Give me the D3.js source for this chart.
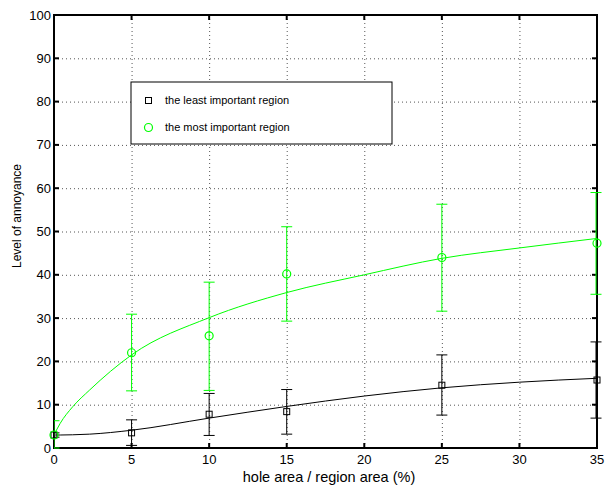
<!DOCTYPE html>
<html>
<head>
<meta charset="utf-8">
<script src="https://cdn.jsdelivr.net/npm/d3@7"></script>
<style>
  body { margin: 0; background: #fff; }
  text { font-family: "Liberation Sans", Arial, Helvetica, sans-serif; fill: #000; }
</style>
</head>
<body>
<div id="chart"></div>
<script>
// measured points (hole area %)
const xVals = [0, 5, 10, 15, 25, 35];
const leastMean  = [3, 3.5, 7.8, 8.4, 14.5, 15.7];
const leastLow   = [2.5, 0.6, 2.9, 3.2, 7.6, 6.9];
const leastHigh  = [3.5, 6.5, 12.6, 13.5, 21.5, 24.5];
const mostMean   = [3, 22.0, 25.9, 40.2, 44.0, 47.3];
const mostLow    = [0, 13.2, 13.3, 29.3, 31.6, 35.5];
const mostHigh   = [6.3, 30.9, 38.3, 51.1, 56.3, 59.0];

// fitted curves
const fitX     = [0, 0.4, 1.2, 2.3, 5, 10, 15, 20, 25, 30, 35];
const leastFit = [3, 3.0, 3.05, 3.2, 4.1, 6.9, 9.6, 12.0, 13.9, 15.2, 16.1];
const mostFit  = [3, 5.7, 9.5, 13.4, 21.5, 30.1, 35.9, 40.0, 43.8, 46.2, 48.4];

const xTicks = [0, 5, 10, 15, 20, 25, 30, 35];
const yTicks = [0, 10, 20, 30, 40, 50, 60, 70, 80, 90, 100];
const legendLabels = ["the least important region", "the most important region"];

const W = 605, H = 491;
const plotL = 54, plotR = 597, plotT = 15, plotB = 448;
const green = "#00ff00";

const svg = d3.select("#chart").append("svg")
  .attr("width", W)
  .attr("height", H);

const x = d3.scaleLinear().domain([0, 35]).range([plotL, plotR]);
const y = d3.scaleLinear().domain([0, 100]).range([plotB, plotT]);

// clip on the left only (caps at x=35 hang over the right edge)
svg.append("defs").append("clipPath").attr("id", "plotclip")
  .append("rect").attr("x", plotL).attr("y", plotT)
  .attr("width", W - plotL).attr("height", plotB - plotT + 2);

// dotted grid
const grid = svg.append("g").attr("stroke", "#555").attr("stroke-dasharray", "1,3").attr("stroke-width", 1);
grid.selectAll(".gx").data(xTicks.slice(1, -1)).enter().append("line")
  .attr("x1", d => x(d) + 0.5).attr("x2", d => x(d) + 0.5).attr("y1", plotT).attr("y2", plotB);
grid.selectAll(".gy").data(yTicks.slice(1, -1)).enter().append("line")
  .attr("y1", d => y(d) + 0.5).attr("y2", d => y(d) + 0.5).attr("x1", plotL).attr("x2", plotR);

// axes: ticks inside on all four sides
const tickLen = 5;
const axes = svg.append("g").attr("stroke", "#000").attr("stroke-width", 2);
axes.append("rect").attr("x", plotL).attr("y", plotT)
  .attr("width", plotR - plotL).attr("height", plotB - plotT).attr("fill", "none");
xTicks.forEach(t => {
  axes.append("line").attr("x1", x(t)).attr("x2", x(t)).attr("y1", plotB).attr("y2", plotB - tickLen);
  axes.append("line").attr("x1", x(t)).attr("x2", x(t)).attr("y1", plotT).attr("y2", plotT + tickLen);
});
yTicks.forEach(t => {
  axes.append("line").attr("y1", y(t)).attr("y2", y(t)).attr("x1", plotL).attr("x2", plotL + tickLen);
  axes.append("line").attr("y1", y(t)).attr("y2", y(t)).attr("x1", plotR).attr("x2", plotR - tickLen);
});

const plot = svg.append("g").attr("clip-path", "url(#plotclip)");

const line = d3.line().x(d => x(d[0])).y(d => y(d[1])).curve(d3.curveMonotoneX);

plot.append("path").datum(fitX.map((v, i) => [v, mostFit[i]]))
  .attr("d", line).attr("fill", "none").attr("stroke", green).attr("stroke-width", 1);
plot.append("path").datum(fitX.map((v, i) => [v, leastFit[i]]))
  .attr("d", line).attr("fill", "none").attr("stroke", "#000").attr("stroke-width", 1);

function errorBars(lo, hi, color) {
  const g = plot.append("g").attr("stroke", color).attr("stroke-width", 1);
  xVals.forEach((xv, i) => {
    const cx = x(xv) - (xv === 35 ? 1 : 0);
    g.append("line").attr("x1", cx).attr("x2", cx).attr("y1", y(lo[i])).attr("y2", y(hi[i]));
    g.append("line").attr("x1", cx - 5.5).attr("x2", cx + 5.5).attr("y1", y(lo[i])).attr("y2", y(lo[i]));
    g.append("line").attr("x1", cx - 5.5).attr("x2", cx + 5.5).attr("y1", y(hi[i])).attr("y2", y(hi[i]));
  });
}
errorBars(mostLow, mostHigh, green);
errorBars(leastLow, leastHigh, "#000");

// markers
svg.append("g").selectAll("rect").data(xVals).enter().append("rect")
  .attr("x", d => x(d) - 3).attr("y", (d, i) => y(leastMean[i]) - 3)
  .attr("width", 6).attr("height", 6)
  .attr("fill", "none").attr("stroke", "#000").attr("stroke-width", 1);
svg.append("g").selectAll("circle").data(xVals).enter().append("circle")
  .attr("cx", d => x(d)).attr("cy", (d, i) => y(mostMean[i])).attr("r", 4)
  .attr("fill", "none").attr("stroke", green).attr("stroke-width", 1.2);

svg.append("g").selectAll("text").data(xTicks).enter().append("text")
  .attr("x", d => x(d)).attr("y", 464)
  .attr("text-anchor", "middle").attr("font-size", 13).text(d => d);
svg.append("g").selectAll("text").data(yTicks).enter().append("text")
  .attr("x", 51).attr("y", d => y(d)).attr("dy", "0.35em")
  .attr("text-anchor", "end").attr("font-size", 13).text(d => d);

svg.append("text").attr("x", 329).attr("y", 482)
  .attr("text-anchor", "middle").attr("font-size", 14.5)
  .text("hole area / region area (%)");
svg.append("text").attr("transform", "translate(21,216) rotate(-90)")
  .attr("text-anchor", "middle").attr("font-size", 12)
  .text("Level of annoyance");

// legend
const lg = svg.append("g");
lg.append("rect").attr("x", 131).attr("y", 82).attr("width", 261).attr("height", 62)
  .attr("fill", "#fff").attr("stroke", "#000").attr("stroke-width", 1);
lg.append("rect").attr("x", 145.5).attr("y", 97.5).attr("width", 6).attr("height", 6)
  .attr("fill", "none").attr("stroke", "#000");
lg.append("circle").attr("cx", 148.5).attr("cy", 127.5).attr("r", 4)
  .attr("fill", "none").attr("stroke", green).attr("stroke-width", 1.2);
lg.selectAll(".lt").data(legendLabels).enter().append("text")
  .attr("x", 165).attr("y", (d, i) => 100.5 + i * 27).attr("dy", "0.35em")
  .attr("font-size", 11).text(d => d);
</script>
</body>
</html>
